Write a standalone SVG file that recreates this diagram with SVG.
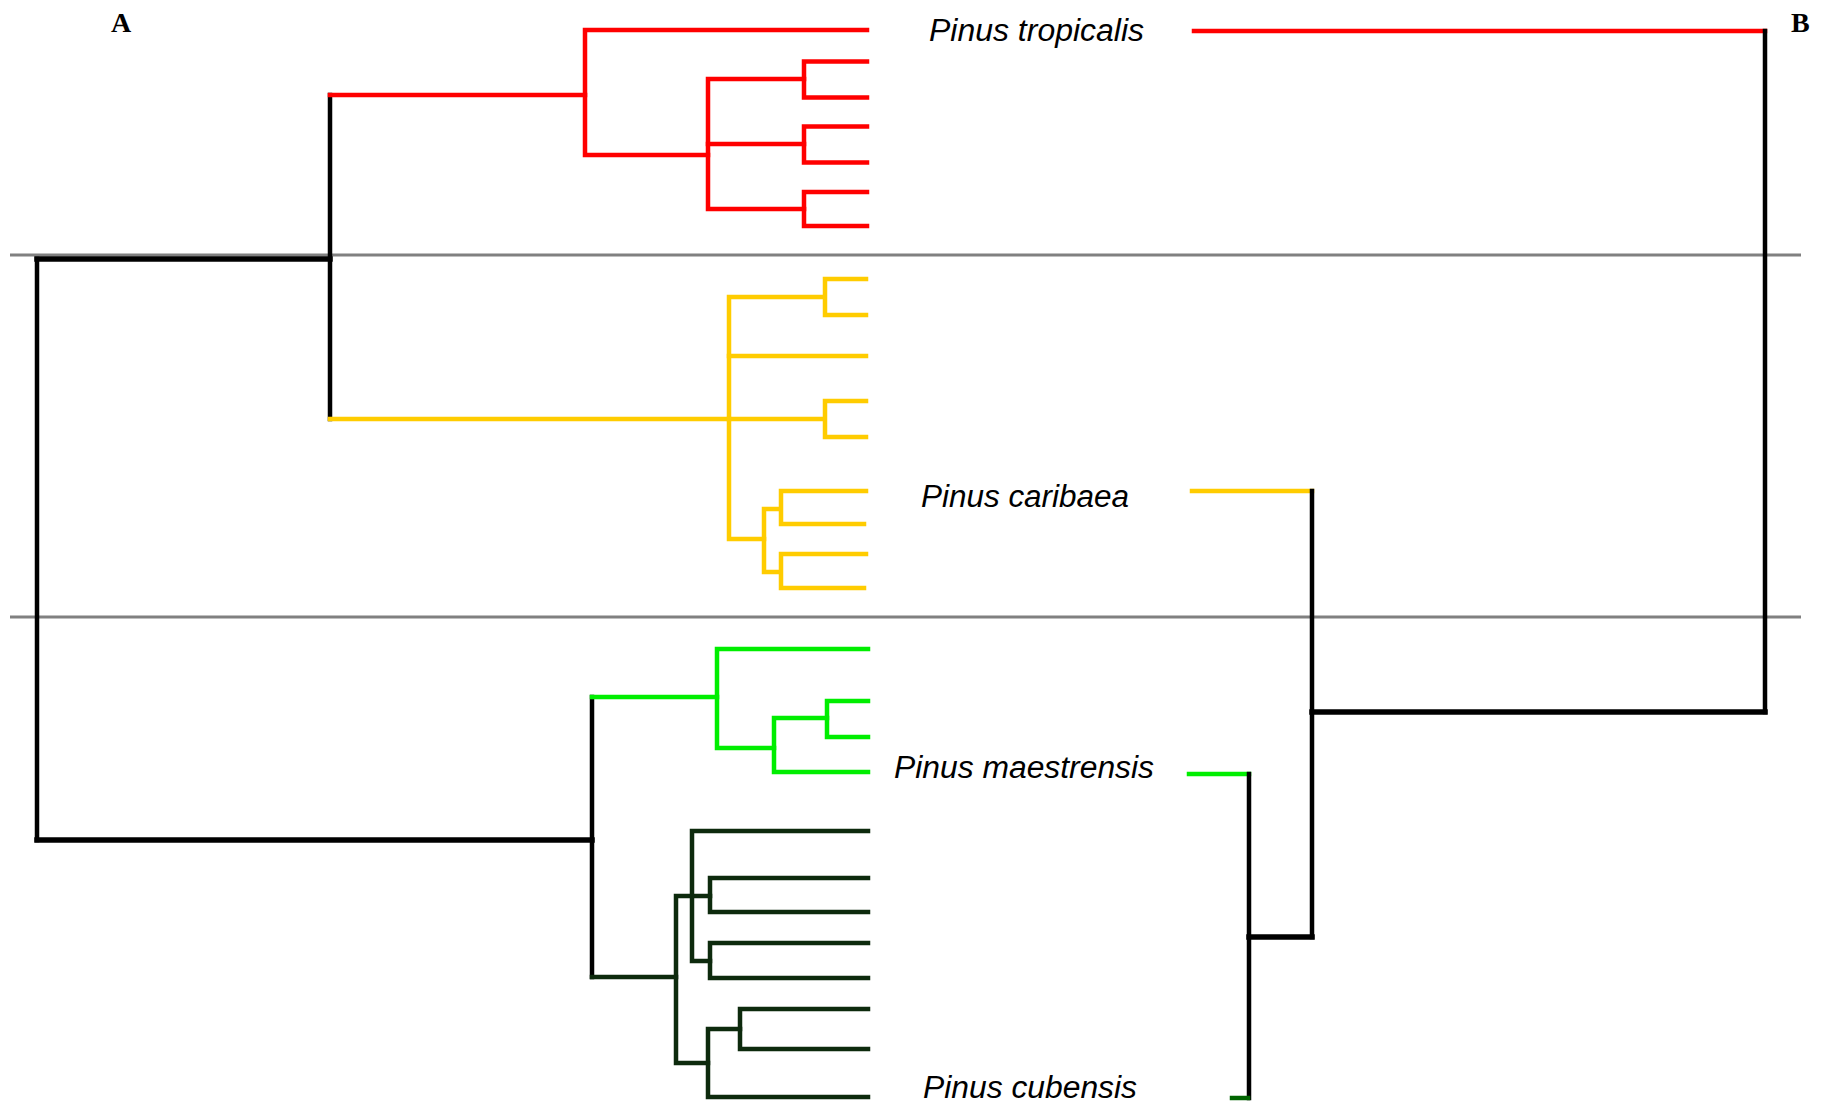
<svg xmlns="http://www.w3.org/2000/svg" width="1824" height="1109" viewBox="0 0 1824 1109">
  <style>
    .br { fill: none; stroke-width: 4.5; stroke-linejoin: miter; stroke-linecap: square; }
    .thick { stroke-width: 5.5; }
    .blk { stroke: #000000; }
    .red { stroke: #ff0000; }
    .yel { stroke: #ffcc00; }
    .grn { stroke: #00ee00; }
    .dgr { stroke: #0d2a0d; }
    .tick { stroke: #006400; }
    .sep { stroke: #808080; stroke-width: 3; fill: none; }
    .sp { font-family: "Liberation Sans", Arial, sans-serif; font-style: italic; font-size: 31px; fill: #000000; }
    .panel { font-family: "Liberation Serif", "Times New Roman", serif; font-weight: bold; font-size: 28px; fill: #000000; }
  </style>

  <!-- panel separators -->
  <g id="separators">
    <line class="sep" x1="10" y1="255" x2="1801" y2="255"/>
    <line class="sep" x1="10" y1="617" x2="1801" y2="617"/>
  </g>

  <!-- panel letters -->
  <g id="label-A"><text class="panel" x="111" y="32">A</text></g>
  <g id="label-B"><text class="panel" x="1791" y="32">B</text></g>

  <g id="connectors">
    <!-- tree A: backbone -->
    <g id="treeA-backbone">
      <path class="br blk" d="M37 259 V840"/>
      <path class="br blk thick" d="M37 259 H330"/>
      <path class="br blk thick" d="M37 840 H592"/>
      <path class="br blk" d="M330 95 V419"/>
      <path class="br blk" d="M592 697 V977"/>
    </g>

    <!-- tree A: red clade -->
    <g id="treeA-red">
      <path class="br red" d="M330 95 H585"/>
      <path class="br red" d="M867 30 H585 V155 H708"/>
      <path class="br red" d="M804 79 H708 V209 H804"/>
      <path class="br red" d="M708 144 H804"/>
      <path class="br red" d="M867 61.5 H804 V97.5 H867"/>
      <path class="br red" d="M867 126.5 H804 V162.5 H867"/>
      <path class="br red" d="M867 192 H804 V226 H867"/>
    </g>

    <!-- tree A: yellow clade -->
    <g id="treeA-yellow">
      <path class="br yel" d="M330 419 H729"/>
      <path class="br yel" d="M824 297 H729 V539 H764"/>
      <path class="br yel" d="M729 356 H866"/>
      <path class="br yel" d="M729 419 H824"/>
      <path class="br yel" d="M866 279 H825 V315 H866"/>
      <path class="br yel" d="M866 401 H825 V437 H866"/>
      <path class="br yel" d="M780 509 H764 V572 H780"/>
      <path class="br yel" d="M866 491 H781 V524 H864"/>
      <path class="br yel" d="M866 554 H781 V588 H864"/>
    </g>

    <!-- tree A: bright green clade -->
    <g id="treeA-green">
      <path class="br grn" d="M592 697 H717"/>
      <path class="br grn" d="M868 649 H717 V748 H774"/>
      <path class="br grn" d="M827 718 H774 V772 H868"/>
      <path class="br grn" d="M868 701 H827 V737 H868"/>
    </g>

    <!-- tree A: dark green clade -->
    <g id="treeA-darkgreen">
      <path class="br dgr" d="M592 977 H676"/>
      <path class="br dgr" d="M710 896 H676 V1063 H708"/>
      <path class="br dgr" d="M868 831 H692 V961 H710"/>
      <path class="br dgr" d="M868 878 H710 V912 H868"/>
      <path class="br dgr" d="M868 943 H710 V978 H868"/>
      <path class="br dgr" d="M740 1029 H708 V1097 H868"/>
      <path class="br dgr" d="M868 1009 H740 V1049 H868"/>
    </g>

    <!-- tree B -->
    <g id="treeB">
      <path class="br red" d="M1194 31 H1765"/>
      <path class="br blk" d="M1765 31 V712"/>
      <path class="br blk thick" d="M1312 712 H1765"/>
      <path class="br yel" d="M1192 491 H1312"/>
      <path class="br blk" d="M1312 491 V937"/>
      <path class="br blk thick" d="M1249 937 H1312"/>
      <path class="br grn" d="M1189 774 H1249"/>
      <path class="br blk" d="M1249 774 V1098"/>
      <path class="br tick" d="M1232 1098 H1248"/>
    </g>
  </g>

  <!-- species labels -->
  <g id="node-tropicalis"><text class="sp" x="929" y="41" textLength="215" lengthAdjust="spacingAndGlyphs">Pinus tropicalis</text></g>
  <g id="node-caribaea"><text class="sp" x="921" y="507" textLength="208" lengthAdjust="spacingAndGlyphs">Pinus caribaea</text></g>
  <g id="node-maestrensis"><text class="sp" x="894" y="778" textLength="260" lengthAdjust="spacingAndGlyphs">Pinus maestrensis</text></g>
  <g id="node-cubensis"><text class="sp" x="923" y="1098" textLength="214" lengthAdjust="spacingAndGlyphs">Pinus cubensis</text></g>
</svg>
